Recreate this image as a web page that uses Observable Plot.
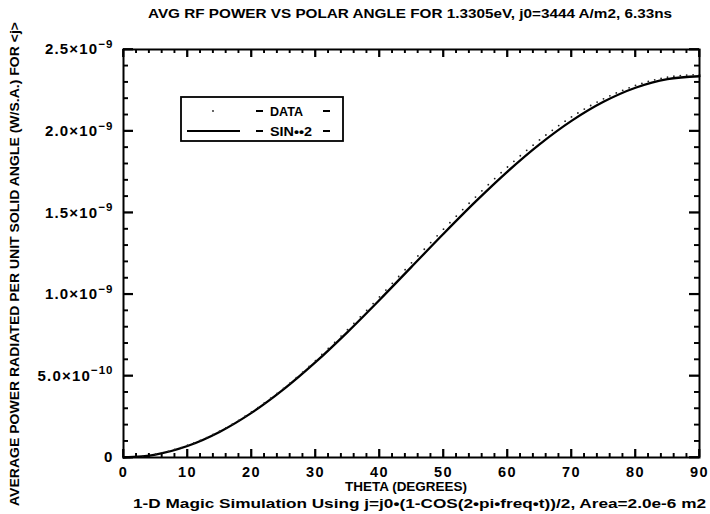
<!DOCTYPE html>
<html>
<head>
<meta charset="utf-8">
<script src="https://cdn.jsdelivr.net/npm/d3@7"></script>
<script src="https://cdn.jsdelivr.net/npm/@observablehq/plot@0.6"></script>
<style>
  html, body { margin: 0; padding: 0; background: #fff; }
  #chart { position: relative; width: 710px; height: 514px; }
</style>
</head>
<body>
<div id="chart"></div>
<script>
// ---- DATA (power in units of 1e-9 W/S.A.) ----
const thetaData = [0,1,2,3,4,5,6,7,8,9,10,11,12,13,14,15,16,17,18,19,20,21,22,23,24,25,26,27,28,29,30,31,32,33,34,35,36,37,38,39,40,41,42,43,44,45,46,47,48,49,50,51,52,53,54,55,56,57,58,59,60,61,62,63,64,65,66,67,68,69,70,71,72,73,74,75,76,77,78,79,80,81,82,83,84,85,86,87,88,89,90];
const powerData = [0.000,0.001,0.004,0.008,0.013,0.020,0.028,0.038,0.049,0.061,0.075,0.089,0.105,0.122,0.141,0.161,0.182,0.204,0.228,0.253,0.279,0.306,0.334,0.363,0.393,0.424,0.456,0.489,0.523,0.558,0.594,0.631,0.668,0.705,0.744,0.783,0.822,0.862,0.902,0.943,0.984,1.026,1.067,1.109,1.151,1.193,1.235,1.276,1.317,1.358,1.399,1.439,1.479,1.519,1.558,1.596,1.634,1.672,1.709,1.745,1.780,1.815,1.849,1.882,1.914,1.946,1.976,2.005,2.034,2.061,2.087,2.111,2.135,2.157,2.178,2.198,2.216,2.234,2.250,2.265,2.280,2.292,2.304,2.314,2.323,2.330,2.336,2.340,2.343,2.345,2.346];
const thetaFit = [0,5,10,15,20,25,30,35,40,45,50,55,60,65,70,75,80,85,90];
const powerFit = [0,0.0178,0.0704,0.1565,0.2733,0.4172,0.584,0.7685,0.9652,1.168,1.3708,1.5675,1.752,1.9188,2.0627,2.1795,2.2656,2.3183,2.336];

const xMajorTicks = [0,10,20,30,40,50,60,70,80,90];
const xMinorTicks = [2,4,6,8,12,14,16,18,22,24,26,28,32,34,36,38,42,44,46,48,52,54,56,58,62,64,66,68,72,74,76,78,82,84,86,88];
const yMajorTicks = [0,0.5,1.0,1.5,2.0,2.5];
const yMinorTicks = [0.1,0.2,0.3,0.4,0.6,0.7,0.8,0.9,1.1,1.2,1.3,1.4,1.6,1.7,1.8,1.9,2.1,2.2,2.3,2.4];
const yTickBase = ["0","5.0×10","1.0×10","1.5×10","2.0×10","2.5×10"];
const yTickExp = ["","−10","−9","−9","−9","−9"];

const titleText = "AVG RF POWER VS POLAR ANGLE FOR 1.3305eV, j0=3444 A/m2, 6.33ns";
const xLabelText = "THETA (DEGREES)";
const yLabelText = "AVERAGE POWER RADIATED PER UNIT SOLID ANGLE (W/S.A.) FOR <j>";
const captionText = "1-D Magic Simulation Using j=j0•(1-COS(2•pi•freq•t))/2, Area=2.0e-6 m2";
const legendLabels = ["DATA", "SIN••2"];

const dataRows = thetaData.map((t, i) => ({theta: t, power: powerData[i]}));
const fitRows = thetaFit.map((t, i) => ({theta: t, power: powerFit[i]}));

// ---- LAYOUT ----
const W = 710, H = 514;
const mL = 123, mR = 11, mT = 49, mB = 57;
const fh = H - mT - mB, fw = W - mL - mR;
const font = "'Liberation Sans', Arial, sans-serif";
const ink = "#000";
const minorLen = 4, majorLen = 8;

const plot = Plot.plot({
  width: W, height: H,
  marginLeft: mL, marginRight: mR, marginTop: mT, marginBottom: mB,
  style: {fontFamily: font, fontSize: "14px", fontWeight: "bold", color: ink, background: "#fff"},
  x: {domain: [0, 90]},
  y: {domain: [0, 2.5]},
  marks: [
    Plot.axisX({anchor: "bottom", ticks: xMajorTicks, tickSize: 0, tickPadding: 9, label: null, tickFormat: d => String(d), fontSize: 14.5}),
    Plot.axisY({anchor: "left", ticks: yMajorTicks, tickSize: 0, tickPadding: 10, label: null, tickFormat: d => yTickBase[yMajorTicks.indexOf(d)] + "|" + yTickExp[yMajorTicks.indexOf(d)], fontSize: 15}),
    Plot.line(fitRows, {x: "theta", y: "power", curve: "catmull-rom", stroke: ink, strokeWidth: 2.3}),
    Plot.dot(dataRows, {x: "theta", y: "power", r: 0.9, fill: "#222", stroke: "none"}),
    Plot.frame({stroke: ink, strokeWidth: 2}),
    // inward minor & major ticks on all four sides
    Plot.tickX(xMinorTicks, {x: d => d, insetTop: fh - minorLen, stroke: ink, strokeWidth: 1.4}),
    Plot.tickX(xMinorTicks, {x: d => d, insetBottom: fh - minorLen, stroke: ink, strokeWidth: 1.4}),
    Plot.tickX(xMajorTicks, {x: d => d, insetTop: fh - majorLen, stroke: ink, strokeWidth: 1.7}),
    Plot.tickX(xMajorTicks, {x: d => d, insetBottom: fh - majorLen, stroke: ink, strokeWidth: 1.7}),
    Plot.tickY(yMinorTicks, {y: d => d, insetRight: fw - minorLen - 1, stroke: ink, strokeWidth: 1.4}),
    Plot.tickY(yMinorTicks, {y: d => d, insetLeft: fw - minorLen - 1, stroke: ink, strokeWidth: 1.4}),
    Plot.tickY(yMajorTicks, {y: d => d, insetRight: fw - majorLen - 2, stroke: ink, strokeWidth: 1.7}),
    Plot.tickY(yMajorTicks, {y: d => d, insetLeft: fw - majorLen - 2, stroke: ink, strokeWidth: 1.7})
  ]
});

document.getElementById("chart").appendChild(plot);

const svg = d3.select(plot);

// superscript exponents on y tick labels, wider lettering for tick labels
svg.selectAll("text").each(function () {
  const s = this.textContent;
  const el = d3.select(this);
  if (s.includes("|")) {
    const [base, exp] = s.split("|");
    el.text(base).attr("letter-spacing", "1.2");
    if (exp) el.append("tspan").attr("dy", "-0.55em").attr("font-size", "11.5px").attr("letter-spacing", "1").text(exp);
  } else if (/^\d+$/.test(s)) {
    el.attr("letter-spacing", "1.5");
  }
});

// tick strokes positioned with Plot's own scales (drawn on top so they show)
const sx = plot.scale("x"), sy = plot.scale("y");
const tg = svg.append("g").attr("stroke", ink).attr("fill", "none");
const frameLeft = mL, frameRight = W - mR, frameTop = mT, frameBottom = H - mB;
for (const [ticks, len, sw] of [[xMinorTicks, minorLen, 1.4], [xMajorTicks, majorLen, 1.7]]) {
  for (const v of ticks) {
    const px = sx.apply(v);
    tg.append("line").attr("x1", px).attr("x2", px).attr("y1", frameBottom).attr("y2", frameBottom - len).attr("stroke-width", sw);
    tg.append("line").attr("x1", px).attr("x2", px).attr("y1", frameTop).attr("y2", frameTop + len).attr("stroke-width", sw);
  }
}
for (const [ticks, len, sw] of [[yMinorTicks, minorLen + 1, 1.4], [yMajorTicks, majorLen + 2, 1.7]]) {
  for (const v of ticks) {
    const py = sy.apply(v);
    tg.append("line").attr("x1", frameLeft).attr("x2", frameLeft + len).attr("y1", py).attr("y2", py).attr("stroke-width", sw);
    tg.append("line").attr("x1", frameRight).attr("x2", frameRight - len).attr("y1", py).attr("y2", py).attr("stroke-width", sw);
  }
}

// ---- TEXT annotations (title, axis labels, caption, legend) ----
const g = svg.append("g").attr("font-family", font).attr("font-weight", "bold").attr("fill", ink).attr("text-anchor", "start");

function addText(txt, x, y, len, size, opts = {}) {
  const t = g.append("text").attr("x", x).attr("y", y).attr("font-size", size)
    .attr("text-anchor", "start")
    .attr("textLength", len).attr("lengthAdjust", "spacingAndGlyphs").text(txt);
  if (opts.rotate) t.attr("transform", `rotate(-90 ${x} ${y})`);
  return t;
}
addText(titleText, 148, 18, 524, 12);
addText(xLabelText, 345, 491, 122, 12.5);
addText(captionText, 133, 508, 573, 12.5);
addText(yLabelText, 19, 506, 484, 12, {rotate: true});

// legend box
const lg = g.append("g");
lg.append("rect").attr("x", 181).attr("y", 97).attr("width", 162).attr("height", 44)
  .attr("fill", "#fff").attr("stroke", ink).attr("stroke-width", 1.8);
lg.append("circle").attr("cx", 213).attr("cy", 111).attr("r", 0.9).attr("fill", "#222");
lg.append("line").attr("x1", 187).attr("x2", 240).attr("y1", 131).attr("y2", 131).attr("stroke", ink).attr("stroke-width", 2);
[111, 131].forEach((cy, i) => {
  lg.append("line").attr("x1", 256).attr("x2", 263).attr("y1", cy).attr("y2", cy).attr("stroke", ink).attr("stroke-width", 2);
  lg.append("line").attr("x1", 323).attr("x2", 330).attr("y1", cy).attr("y2", cy).attr("stroke", ink).attr("stroke-width", 2);
  lg.append("text").attr("x", 270).attr("y", cy + 4.5).attr("font-size", 12).attr("text-anchor", "start")
    .attr("textLength", i === 0 ? 33 : 42).attr("lengthAdjust", "spacingAndGlyphs").text(legendLabels[i]);
});
</script>
</body>
</html>
